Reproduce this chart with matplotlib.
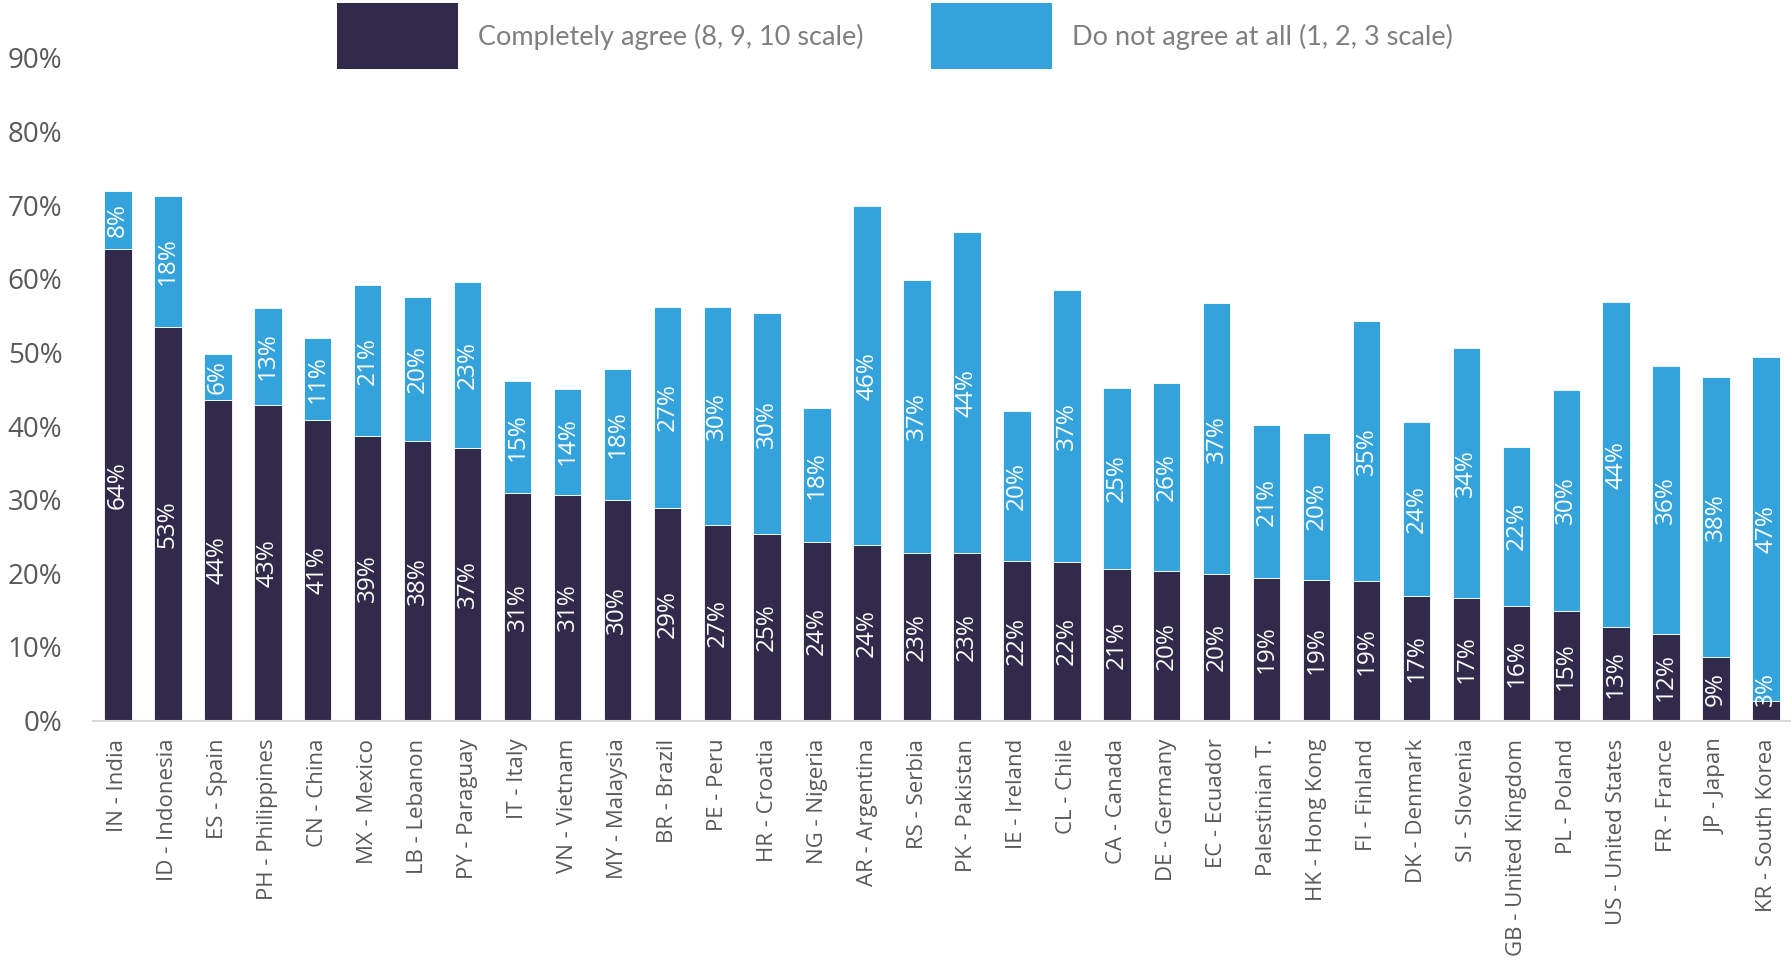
import numpy as np
import matplotlib.pyplot as plt
from matplotlib.patches import Rectangle

countries = ["IN - India", "ID - Indonesia", "ES - Spain", "PH - Philippines", "CN - China",
             "MX - Mexico", "LB - Lebanon", "PY - Paraguay", "IT - Italy", "VN - Vietnam",
             "MY - Malaysia", "BR - Brazil", "PE - Peru", "HR - Croatia", "NG - Nigeria",
             "AR - Argentina", "RS - Serbia", "PK - Pakistan", "IE - Ireland", "CL - Chile",
             "CA - Canada", "DE - Germany", "EC - Ecuador", "Palestinian T.", "HK - Hong Kong",
             "FI - Finland", "DK - Denmark", "SI - Slovenia", "GB - United Kingdom", "PL - Poland",
             "US - United States", "FR - France", "JP - Japan", "KR - South Korea"]

# share of respondents, in %
agree = [64.0, 53.4, 43.6, 42.9, 40.8, 38.6, 38.0, 37.0, 30.9, 30.7,
         30.0, 28.9, 26.6, 25.3, 24.2, 23.8, 22.8, 22.7, 21.7, 21.6,
         20.6, 20.3, 19.9, 19.3, 19.1, 18.9, 16.9, 16.6, 15.6, 14.9,
         12.7, 11.8, 8.6, 2.6]
disagree = [7.9, 17.9, 6.2, 13.2, 11.1, 20.6, 19.6, 22.6, 15.2, 14.4,
            17.7, 27.3, 29.6, 30.0, 18.3, 46.1, 37.1, 43.6, 20.4, 36.9,
            24.6, 25.6, 36.8, 20.9, 20.0, 35.4, 23.6, 34.0, 21.6, 30.0,
            44.1, 36.3, 38.1, 46.8]

series_names = ["Completely agree (8, 9, 10 scale)", "Do not agree at all (1, 2, 3 scale)"]
y_ticks = [0, 10, 20, 30, 40, 50, 60, 70, 80, 90]
y_tick_labels = ["0%", "10%", "20%", "30%", "40%", "50%", "60%", "70%", "80%", "90%"]

dark = "#312A4B"
blue = "#34A3DB"
W, H = 1791, 967

fig = plt.figure(figsize=(W / 100, H / 100), dpi=100)
ax = fig.add_axes([93 / W, 1 - 720.5 / H, 1 - 93 / W, 662.5 / H])

x = np.arange(len(countries))
width = 0.55
ax.bar(x, agree, width, color=dark, edgecolor="white", linewidth=0.6)
ax.bar(x, disagree, width, bottom=agree, color=blue, edgecolor="white", linewidth=0.6)

# data labels, rotated inside each segment
for i in range(len(countries)):
    yb = max(agree[i] / 2, 4.3)
    ax.text(x[i], yb, f"{round(agree[i])}%", rotation=90, ha="center", va="center",
            color="white", fontsize=17.5, family="Open Sans")
    yt = agree[i] + disagree[i] / 2
    ax.text(x[i], yt, f"{round(disagree[i])}%", rotation=90, ha="center", va="center",
            color="white", fontsize=17.5, family="Open Sans")

ax.set_xlim(-0.5, len(countries) - 0.5)
ax.set_ylim(0, 90)
ax.set_yticks(y_ticks)
ax.set_yticklabels(y_tick_labels, fontsize=20, color="#595959", family="Open Sans")
ax.set_xticks(x)
ax.set_xticklabels(countries, rotation=90, fontsize=16, color="#595959", family="Open Sans")
ax.tick_params(axis="y", length=0, pad=22)
ax.tick_params(axis="x", length=0, pad=13)

for s in ["top", "right", "left"]:
    ax.spines[s].set_visible(False)
ax.spines["bottom"].set_color("#D9D9D9")
ax.spines["bottom"].set_linewidth(1.5)

# legend: big colour blocks with grey text
legend_items = [(337, dark, series_names[0]), (931, blue, series_names[1])]
for px, col, name in legend_items:
    fig.add_artist(Rectangle((px / W, 1 - 69 / H), 121 / W, 66 / H, transform=fig.transFigure,
                             facecolor=col, edgecolor="none"))
    fig.text((px + 141) / W, 1 - 37 / H, name, ha="left", va="center", fontsize=19.5,
             family="Lato", color="#7F7F7F")

fig.savefig("out.png", dpi=100)
